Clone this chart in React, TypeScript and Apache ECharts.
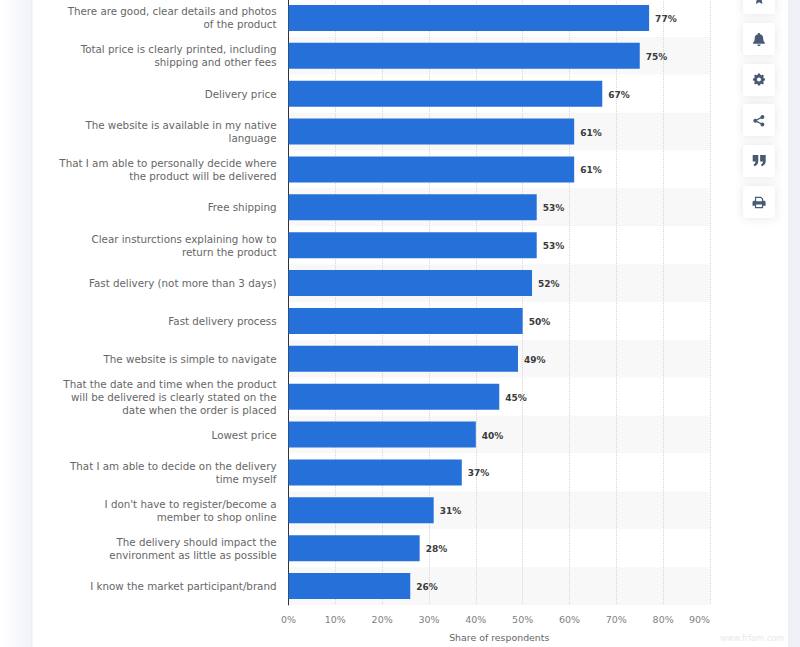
import React, { useEffect, useRef } from "react";
import * as echarts from "echarts";

const categories = [
  "There are good, clear details and photos\nof the product",
  "Total price is clearly printed, including\nshipping and other fees",
  "Delivery price",
  "The website is available in my native\nlanguage",
  "That I am able to personally decide where\nthe product will be delivered",
  "Free shipping",
  "Clear insturctions explaining how to\nreturn the product",
  "Fast delivery (not more than 3 days)",
  "Fast delivery process",
  "The website is simple to navigate",
  "That the date and time when the product\nwill be delivered is clearly stated on the\ndate when the order is placed",
  "Lowest price",
  "That I am able to decide on the delivery\ntime myself",
  "I don't have to register/become a\nmember to shop online",
  "The delivery should impact the\nenvironment as little as possible",
  "I know the market participant/brand",
];
const shares = [77, 75, 67, 61, 61, 53, 53, 52, 50, 49, 45, 40, 37, 31, 28, 26];
const axisTitle = "Share of respondents";
const watermark = "www.frfam.com";

const FONT = "'DejaVu Sans', sans-serif";
const ICON = "#4a5a75";

const icons: Record<string, string> = {
  stat_star: "M8 0 L10.4 5.2 L16 5.9 L11.9 9.8 L13 15.5 L8 12.7 L3 15.5 L4.1 9.8 L0 5.9 L5.6 5.2 Z",
  stat_bell: "M7 0 C8 0 8.6 .7 8.6 1.6 C11 2.3 12 4.3 12 6.6 C12 9.6 13 10.6 14 11.6 L14 12.6 L0 12.6 L0 11.6 C1 10.6 2 9.6 2 6.6 C2 4.3 3 2.3 5.4 1.6 C5.4 .7 6 0 7 0 Z M5 13.6 L9 13.6 C9 15 8 15.6 7 15.6 C6 15.6 5 15 5 13.6 Z",
  stat_gear: "M5.5 0 L8.5 0 L9 2 L10.6 2.7 L12.4 1.6 L14.4 3.6 L13.3 5.4 L14 7 L16 7.5 L16 10.5 L14 11 L13.3 12.6 L14.4 14.4 L12.4 16.4 L10.6 15.3 L9 16 L8.5 18 L5.5 18 L5 16 L3.4 15.3 L1.6 16.4 L-.4 14.4 L.7 12.6 L0 11 L-2 10.5 L-2 7.5 L0 7 L.7 5.4 L-.4 3.6 L1.6 1.6 L3.4 2.7 L5 2 Z M7 6 A3 3 0 1 0 7 12 A3 3 0 1 0 7 6 Z",
  stat_share: "M12 0 A2.6 2.6 0 1 1 12 5.2 C11.3 5.2 10.7 5 10.2 4.5 L5.2 7 L5.2 8 L10.2 10.5 C10.7 10 11.3 9.8 12 9.8 A2.6 2.6 0 1 1 9.4 12.4 L9.4 12 L4.4 9.5 C3.9 10 3.3 10.2 2.6 10.2 A2.6 2.6 0 1 1 2.6 5 C3.3 5 3.9 5.2 4.4 5.6 L9.4 3 L9.4 2.6 A2.6 2.6 0 0 1 12 0 Z",
  stat_quote: "M0 0 L6 0 L6 6.5 C6 9.5 4.5 11.5 1.5 12 L1 10 C2.5 9.6 3 8.6 3 7 L0 7 Z M8 0 L14 0 L14 6.5 C14 9.5 12.5 11.5 9.5 12 L9 10 C10.5 9.6 11 8.6 11 7 L8 7 Z",
  stat_print: "M3 0 L10.5 0 L13 2.5 L13 5 L14 5 C15.2 5 16 5.8 16 7 L16 11 L13 11 L13 14 L3 14 L3 11 L0 11 L0 7 C0 5.8 .8 5 2 5 L3 5 Z M4.5 1.5 L4.5 5.5 L11.5 5.5 L11.5 3 L10 1.5 Z M4.5 9.5 L4.5 12.5 L11.5 12.5 L11.5 9.5 Z",
};
Object.entries(icons).forEach(([k, d]) => {
  echarts.graphic.registerShape(k, echarts.graphic.extendPath(d as any, {}) as any);
});

const iconButtons = [
  { type: "stat_star", y: -18, ix: 754, iy: -6, s: 0.65 },
  { type: "stat_bell", y: 23, ix: 753, iy: 33, s: 0.85 },
  { type: "stat_gear", y: 64, ix: 754.3, iy: 73.5, s: 0.67 },
  { type: "stat_share", y: 104, ix: 753.3, iy: 115, s: 0.76 },
  { type: "stat_quote", y: 145, ix: 752.7, iy: 155, s: 0.93 },
  { type: "stat_print", y: 186, ix: 752.5, iy: 196.7, s: 0.82 },
];

export default function App() {
  const ref = useRef<HTMLDivElement>(null);
  useEffect(() => {
    document.body.style.margin = "0";
    const chart = echarts.init(ref.current!, undefined, { renderer: "svg" });
    chart.setOption({
      animation: false,
      backgroundColor: "#ffffff",
      textStyle: { fontFamily: FONT },
      grid: { left: 288.5, top: -1, width: 421.5, height: 606, containLabel: false, outerBoundsMode: "none" },
      xAxis: {
        type: "value",
        min: 0,
        max: 90,
        interval: 10,
        position: "bottom",
        axisLine: { show: false },
        axisTick: { show: false },
        splitLine: { show: true, lineStyle: { type: "dotted", color: "#d6d6d6", width: 1 } },
        axisLabel: {
          formatter: "{value}%",
          color: "#808080",
          fontSize: 9.5,
          fontFamily: FONT,
          margin: 9,
          alignMaxLabel: "right",
        },
        name: axisTitle,
        nameLocation: "middle",
        nameGap: 28,
        nameTextStyle: { color: "#666666", fontSize: 9.4, fontFamily: FONT },
      },
      yAxis: {
        type: "category",
        inverse: true,
        data: categories.map((c) => ({
          value: c,
          textStyle: c.includes("\n") ? { padding: [0, 0, 5, 0] } : {},
        })),
        axisLine: { show: true, lineStyle: { color: "#333333", width: 1 } },
        axisTick: { show: false },
        splitArea: { show: true, interval: 0, areaStyle: { color: ["#ffffff", "#f8f8f8"] } },
        axisLabel: {
          color: "#666666",
          fontSize: 10.3,
          fontFamily: FONT,
          align: "right",
          margin: 12,
          lineHeight: 13,
          interval: 0,
        },
      },
      series: [
        {
          type: "bar",
          data: shares,
          barWidth: 26,
          itemStyle: { color: "#2670da" },
          label: {
            show: true,
            position: "right",
            distance: 6,
            formatter: "{c}%",
            color: "#3a3a3a",
            fontSize: 9,
            fontWeight: 700,
            fontFamily: FONT,
            offset: [0, 1],
          },
          z: 3,
        },
      ],
      graphic: {
        elements: [
          {
            type: "rect", silent: true, z: -10, zlevel: 0,
            shape: { x: 0, y: 0, width: 32, height: 647 },
            style: {
              fill: new echarts.graphic.LinearGradient(0, 0, 1, 0, [
                { offset: 0, color: "#ffffff" },
                { offset: 1, color: "#f1f3f8" },
              ]),
            },
          },
          { type: "rect", silent: true, z: -9, shape: { x: 788, y: 0, width: 12, height: 647 }, style: { fill: "#eef0f5" } },
          { type: "line", silent: true, z: -9, shape: { x1: 32, y1: 0, x2: 32, y2: 647 }, style: { stroke: "#e8ebf2", lineWidth: 1 } },
          ...iconButtons.flatMap((b) => [
            {
              type: "rect", silent: true, z: 5,
              shape: { x: 743, y: b.y, width: 32, height: 32, r: 4 },
              style: { fill: "#ffffff", shadowColor: "rgba(80,90,120,0.16)", shadowBlur: 8 },
            },
            {
              type: b.type, silent: true, z: 6, x: b.ix, y: b.iy, scaleX: b.s, scaleY: b.s,
              style: { fill: ICON },
            },
          ]),
          {
            type: "text", silent: true, z: 5, x: 720, y: 634,
            style: { text: watermark, fill: "#e9e9ec", fontSize: 8.2, fontFamily: FONT },
          },
        ],
      },
    });
    return () => chart.dispose();
  }, []);
  return <div ref={ref} style={{ width: 800, height: 647 }} />;
}
